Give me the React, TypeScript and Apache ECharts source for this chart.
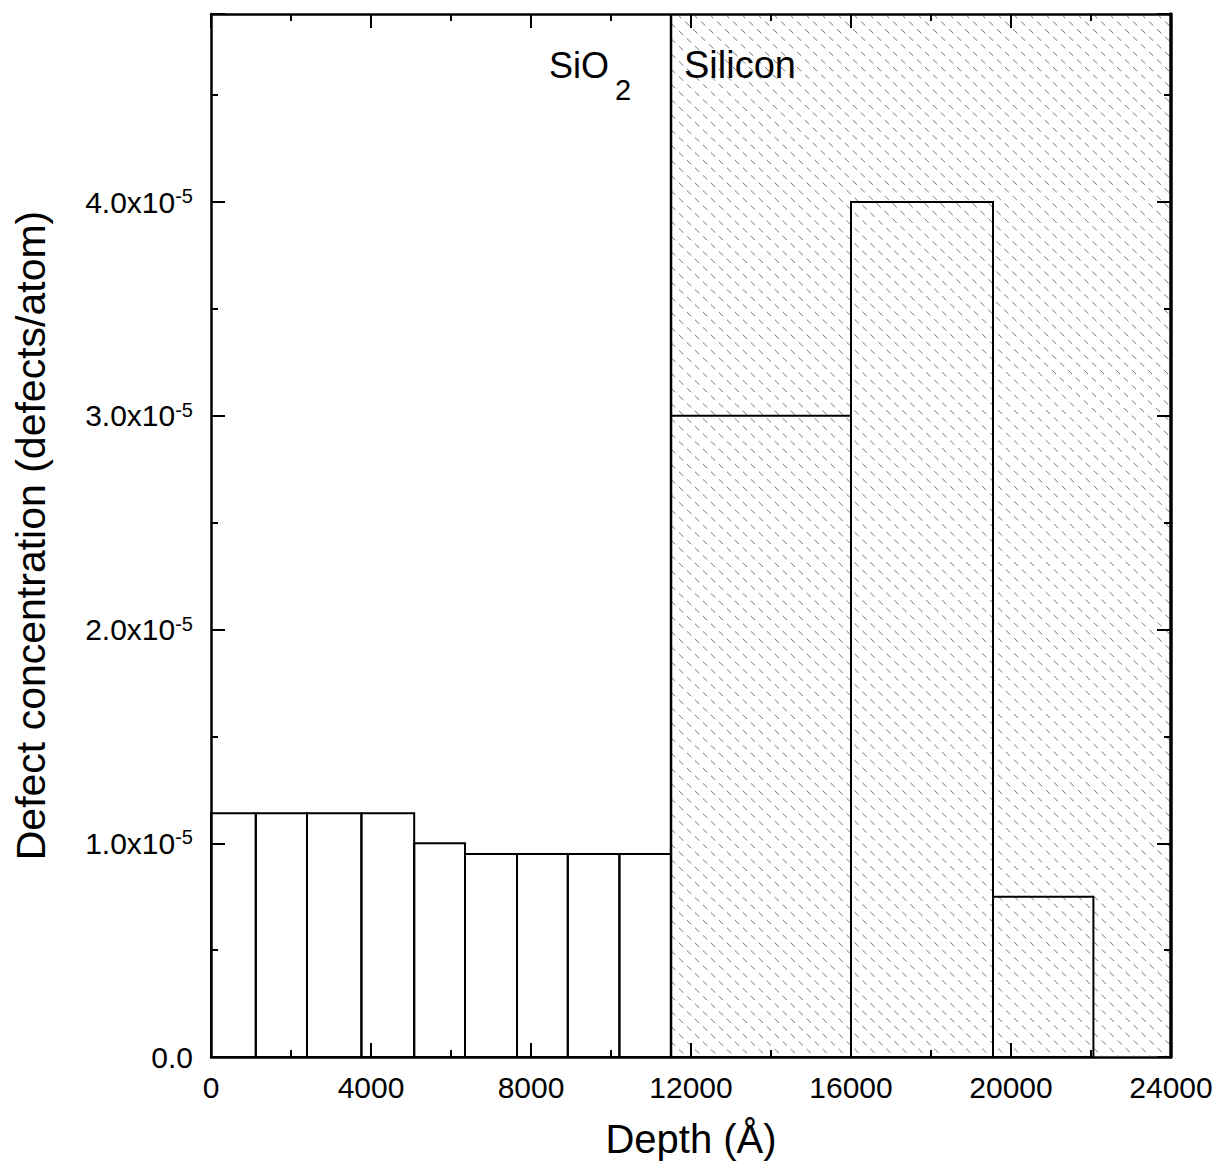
import React, { useEffect, useRef } from "react";
import * as echarts from "echarts";

// Bin edges (Å) and defect concentration per bin (defects/atom)
const oxideEdges = [0, 1120, 2400, 3760, 5080, 6350, 7650, 8920, 10210, 11500];
const oxideValues = [1.14e-5, 1.14e-5, 1.14e-5, 1.14e-5, 1.0e-5, 0.95e-5, 0.95e-5, 0.95e-5, 0.95e-5];
const siliconEdges = [11500, 16000, 19550, 22060];
const siliconValues = [3.0e-5, 4.0e-5, 0.75e-5];

// Layer extents (Å)
const interfaceDepth = 11500;
const depthMax = 24000;
const concMax = 4.88e-5;

const xTicks = { min: 0, max: depthMax, interval: 4000 };
const yTicks = { min: 0, interval: 1e-5 };

const FONT = "'Liberation Sans', Arial, Helvetica, sans-serif";

function buildBins(edges: number[], values: number[]) {
  return values.map((v, i) => [edges[i], edges[i + 1], v]);
}

export default function App() {
  const ref = useRef<HTMLDivElement>(null);

  useEffect(() => {
    if (!ref.current) return;
    const chart = echarts.init(ref.current, null, { renderer: "svg" });

    const bins = [...buildBins(oxideEdges, oxideValues), ...buildBins(siliconEdges, siliconValues)];

    const axisLine = (w: number) => ({ show: true, onZero: false, lineStyle: { color: "#000", width: w } });
    const tick = { show: true, inside: true, length: 14, lineStyle: { color: "#000", width: 2 } };
    const minor = { show: true, splitNumber: 2, length: 7, lineStyle: { color: "#000", width: 2 } };

    const yLabel = (v: number) => {
      if (Math.abs(v) < 1e-12) return "{m|0.0}";
      const k = Math.round(v / 1e-5);
      if (Math.abs(v - k * 1e-5) > 1e-9) return "";
      return `{m|${k.toFixed(1)}x10}{s|-5}`;
    };

    chart.setOption({
      animation: false,
      backgroundColor: "#fff",
      grid: { left: 211, right: 46, top: 14, bottom: 113, containLabel: false },
      xAxis: [
        {
          type: "value",
          ...xTicks,
          position: "bottom",
          axisLine: axisLine(2.5),
          axisTick: tick,
          minorTick: minor,
          splitLine: { show: false },
          axisLabel: {
            color: "#000",
            fontSize: 30,
            fontFamily: FONT,
            margin: 15,
            showMaxLabel: true,
            showMinLabel: true,
            formatter: (v: number) => String(Math.round(v)),
          },
          name: "Depth (Å)",
          nameLocation: "middle",
          nameGap: 62,
          nameTextStyle: { color: "#000", fontSize: 40, fontFamily: FONT },
        },
        {
          type: "value",
          ...xTicks,
          position: "top",
          axisLine: axisLine(2.5),
          axisTick: tick,
          minorTick: minor,
          splitLine: { show: false },
          axisLabel: { show: false },
        },
      ],
      yAxis: [
        {
          type: "value",
          ...yTicks,
          max: concMax,
          position: "left",
          axisLine: axisLine(2.5),
          axisTick: tick,
          minorTick: minor,
          splitLine: { show: false },
          axisLabel: {
            formatter: yLabel,
            margin: 18,
            showMaxLabel: false,
            rich: {
              m: { color: "#000", fontSize: 30, fontFamily: FONT, lineHeight: 32 },
              s: { color: "#000", fontSize: 20, fontFamily: FONT, lineHeight: 20, verticalAlign: "top" },
            },
          },
          name: "Defect concentration (defects/atom)",
          nameLocation: "middle",
          nameGap: 160,
          nameTextStyle: { color: "#000", fontSize: 41, fontFamily: FONT },
        },
        {
          type: "value",
          ...yTicks,
          max: concMax,
          position: "right",
          axisLine: axisLine(3.5),
          axisTick: tick,
          minorTick: minor,
          splitLine: { show: false },
          axisLabel: { show: false },
        },
      ],
      series: [
        {
          // Silicon substrate: hatched region right of the oxide interface
          type: "custom",
          xAxisIndex: 0,
          yAxisIndex: 0,
          silent: true,
          data: [[interfaceDepth, depthMax]],
          encode: { x: [0, 1] },
          renderItem: (params: any, api: any) => {
            const tl = api.coord([api.value(0), concMax]);
            const br = api.coord([api.value(1), 0]);
            const x0 = tl[0], y0 = tl[1], x1 = br[0], y1 = br[1];
            const h = y1 - y0;
            const slope = 0.95;
            const step = 16;
            const children: any[] = [];
            for (let c = x0 - h / slope; c < x1; c += step) {
              let sx = c, sy = y0;
              let ex = c + h / slope, ey = y1;
              if (sx < x0) { sy = y0 + slope * (x0 - c); sx = x0; }
              if (ex > x1) { ey = y0 + slope * (x1 - c); ex = x1; }
              if (ex <= sx) continue;
              children.push({
                type: "line",
                shape: { x1: sx, y1: sy, x2: ex, y2: ey },
                style: { stroke: "#1e1e1e", lineWidth: 1, lineDash: [6, 5], opacity: 0.6 },
              });
            }
            children.push({
              type: "line",
              shape: { x1: x0, y1: y0, x2: x0, y2: y1 },
              style: { stroke: "#000", lineWidth: 2.5 },
            });
            return { type: "group", children };
          },
          z: 1,
        },
        {
          // Histogram bins
          type: "custom",
          xAxisIndex: 0,
          yAxisIndex: 0,
          data: bins,
          encode: { x: [0, 1], y: 2 },
          renderItem: (params: any, api: any) => {
            const p0 = api.coord([api.value(0), api.value(2)]);
            const p1 = api.coord([api.value(1), 0]);
            return {
              type: "rect",
              shape: { x: p0[0], y: p0[1], width: p1[0] - p0[0], height: p1[1] - p0[1] },
              style: { fill: "none", stroke: "#000", lineWidth: 2 },
            };
          },
          z: 2,
        },
      ],
      graphic: [
        {
          type: "text",
          left: 549,
          top: 47,
          style: { text: "SiO", fontSize: 36, fontFamily: FONT, fill: "#000" },
        },
        {
          type: "text",
          left: 615,
          top: 75,
          style: { text: "2", fontSize: 29, fontFamily: FONT, fill: "#000" },
        },
        {
          type: "text",
          left: 684,
          top: 46,
          style: { text: "Silicon", fontSize: 38, fontFamily: FONT, fill: "#000" },
        },
      ],
    });

    return () => chart.dispose();
  }, []);

  return (
    <div
      ref={ref}
      style={{ position: "fixed", left: 0, top: 0, width: 1217, height: 1170, background: "#fff" }}
    />
  );
}
